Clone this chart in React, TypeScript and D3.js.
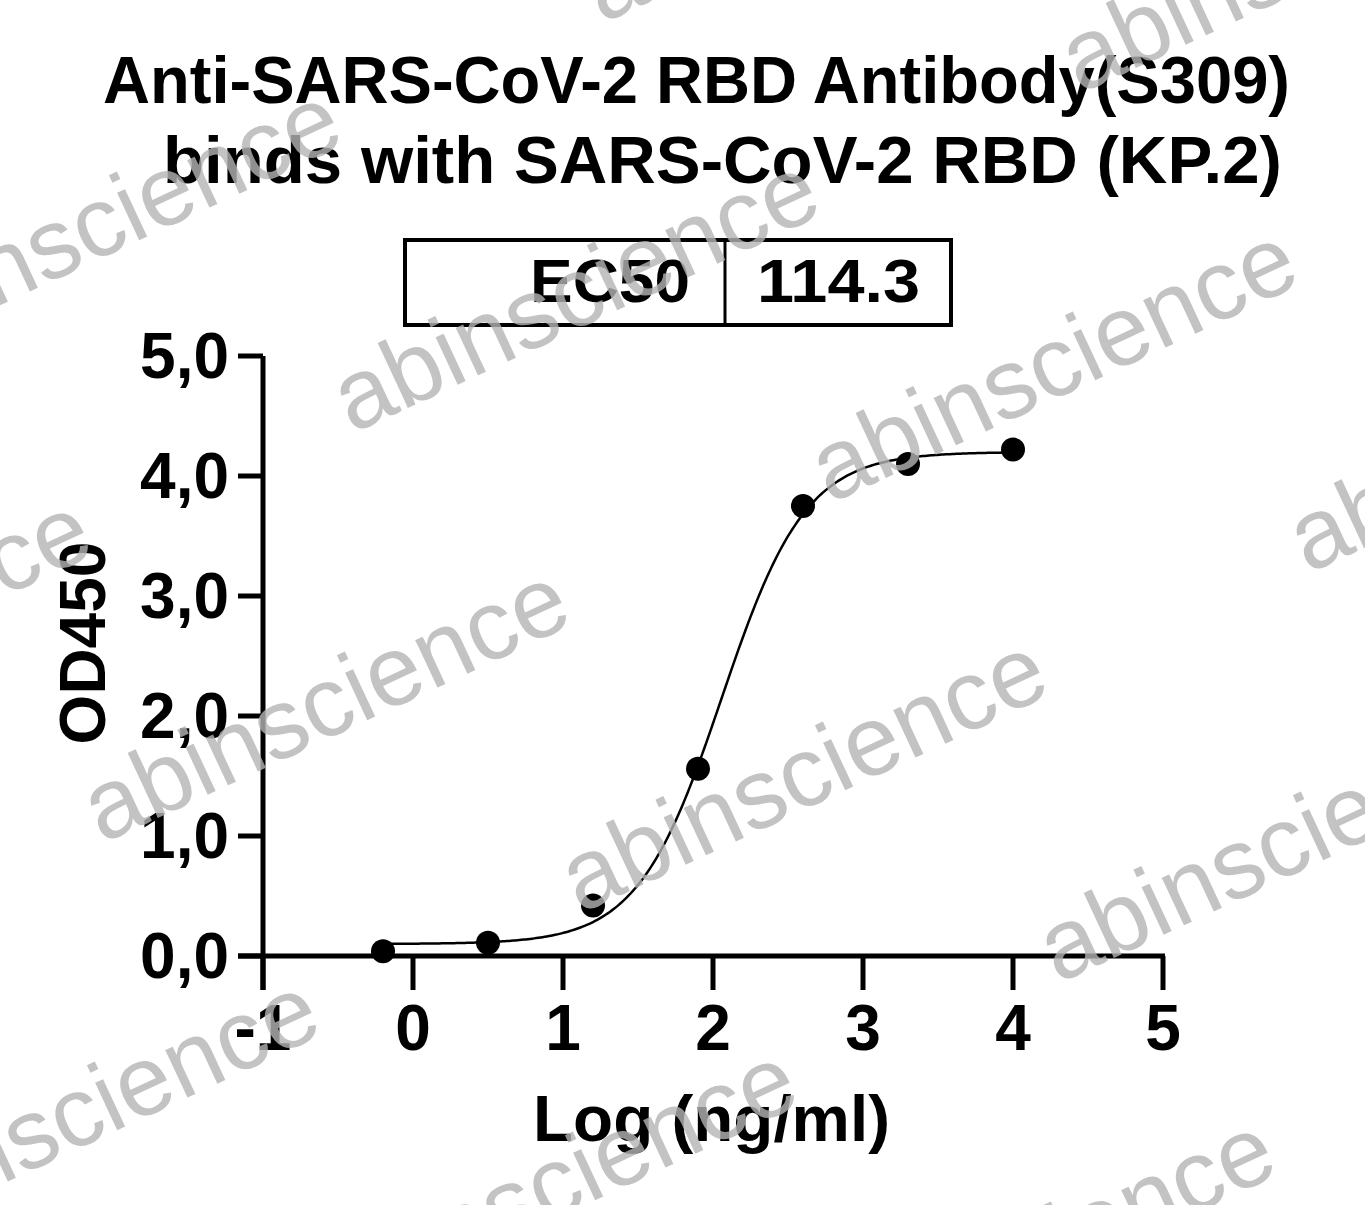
import React from "react";
import * as d3 from "d3";

const titleLines = ["Anti-SARS-CoV-2 RBD Antibody(S309)", "binds with SARS-CoV-2 RBD (KP.2)"];
const ec50Label = "EC50";
const ec50Value = "114.3";
const logConc = [-0.2, 0.5, 1.2, 1.9, 2.6, 3.3, 4.0];
const od450 = [0.04, 0.11, 0.42, 1.56, 3.75, 4.1, 4.22];
// 4PL fit parameters: bottom, top, logEC50, hill slope
const fitBottom = 0.1;
const fitTop = 4.2;
const fitLogEC50 = Math.log10(114.3);
const fitHill = 1.55;
const xTicks = [-1, 0, 1, 2, 3, 4, 5];
const yTicks = [0, 1, 2, 3, 4, 5];
const yTickLabels = ["0,0", "1,0", "2,0", "3,0", "4,0", "5,0"];
const xTitle = "Log (ng/ml)";
const yTitle = "OD450";
const watermark = "abinscience";

const W = 1365;
const H = 1205;
const FONT = "'Liberation Sans', Arial, Helvetica, sans-serif";

export default function App() {
  const x = d3.scaleLinear().domain([-1, 5]).range([263, 1163]);
  const y = d3.scaleLinear().domain([0, 5]).range([956, 356]);
  const fit = (v: number) => fitBottom + (fitTop - fitBottom) / (1 + Math.pow(10, (fitLogEC50 - v) * fitHill));
  const xs = d3.range(0, 301).map((i) => -0.2 + (4.2 * i) / 300);
  const line = d3
    .line<number>()
    .x((d) => x(d))
    .y((d) => y(fit(d)))
    .curve(d3.curveLinear);

  // watermark lattice
  const origin = [352, 434];
  const u = [478, 70];
  const v = [-250, 410];
  const marks: { px: number; py: number }[] = [];
  for (let i = -3; i <= 4; i++) {
    for (let j = -3; j <= 4; j++) {
      const px = origin[0] + i * u[0] + j * v[0];
      const py = origin[1] + i * u[1] + j * v[1];
      if (px > -600 && px < W + 50 && py > -100 && py < H + 300) marks.push({ px, py });
    }
  }

  const axisW = 5;
  return (
    <svg width={W} height={H} viewBox={`0 0 ${W} ${H}`} style={{ position: "absolute", left: 0, top: 0, background: "#fff" }}>
      <rect x={0} y={0} width={W} height={H} fill="#fff" />
      {/* Title */}
      <text x={103} y={103} textLength={1187} lengthAdjust="spacingAndGlyphs" fontFamily={FONT} fontWeight="bold" fontSize={67} fill="#000">
        {titleLines[0]}
      </text>
      <text x={163} y={183} textLength={1119} lengthAdjust="spacingAndGlyphs" fontFamily={FONT} fontWeight="bold" fontSize={67} fill="#000">
        {titleLines[1]}
      </text>
      {/* EC50 box */}
      <rect x={405} y={240} width={546} height={85} fill="none" stroke="#000" strokeWidth={4} />
      <line x1={725} x2={725} y1={240} y2={325} stroke="#000" strokeWidth={3} />
      <text x={530} y={302} textLength={160} lengthAdjust="spacingAndGlyphs" fontFamily={FONT} fontWeight="bold" fontSize={62} fill="#000">
        {ec50Label}
      </text>
      <text x={757} y={302} textLength={163} lengthAdjust="spacingAndGlyphs" fontFamily={FONT} fontWeight="bold" fontSize={62} fill="#000">
        {ec50Value}
      </text>
      {/* Axes */}
      <line x1={x(-1)} x2={x(-1)} y1={y(5)} y2={990} stroke="#000" strokeWidth={axisW} />
      <line x1={238} x2={x(5) + 2} y1={y(0)} y2={y(0)} stroke="#000" strokeWidth={axisW} />
      {yTicks.map((t, i) => (
        <g key={"yt" + t}>
          <line x1={238} x2={x(-1)} y1={y(t)} y2={y(t)} stroke="#000" strokeWidth={axisW} />
          <text x={229} y={y(t) + 22} textAnchor="end" fontFamily={FONT} fontWeight="bold" fontSize={64} fill="#000">
            {yTickLabels[i]}
          </text>
        </g>
      ))}
      {xTicks.map((t) => (
        <g key={"xt" + t}>
          <line x1={x(t)} x2={x(t)} y1={y(0)} y2={990} stroke="#000" strokeWidth={axisW} />
          <text x={x(t)} y={1050} textAnchor="middle" fontFamily={FONT} fontWeight="bold" fontSize={64} fill="#000">
            {String(t)}
          </text>
        </g>
      ))}
      <text transform="translate(105,643) rotate(-90)" textAnchor="middle" fontFamily={FONT} fontWeight="bold" fontSize={64} fill="#000">
        {yTitle}
      </text>
      <text x={533} y={1141} textLength={357} lengthAdjust="spacingAndGlyphs" fontFamily={FONT} fontWeight="bold" fontSize={65} fill="#000">
        {xTitle}
      </text>
      {/* Fit curve */}
      <path d={line(xs) || ""} fill="none" stroke="#000" strokeWidth={2.5} />
      {/* Points */}
      {logConc.map((c, i) => (
        <circle key={"p" + i} cx={x(c)} cy={y(od450[i])} r={12} fill="#000" />
      ))}
      {/* Watermark */}
      {marks.map((m, i) => (
        <text
          key={"wm" + i}
          transform={`translate(${m.px},${m.py}) rotate(-25)`}
          fontFamily={FONT}
          fontSize={99}
          fill="#b4b4b4"
          fillOpacity={0.8}
        >
          {watermark}
        </text>
      ))}
    </svg>
  );
}
